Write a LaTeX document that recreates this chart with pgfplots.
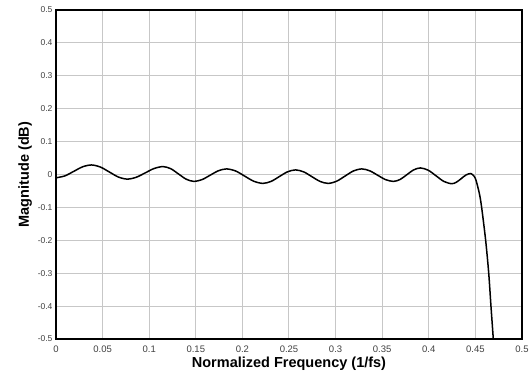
\documentclass[border=0pt]{standalone}
\usepackage{fontspec}
\setmainfont{Liberation Sans}
\usepackage{pgfplots}
\pgfplotsset{compat=1.18}
\begin{document}
\begin{tikzpicture}[x=1pt,y=1pt]
\begin{axis}[
  name=ax, anchor=south west, at={(0,0)},
  scale only axis, width=466pt, height=329pt,
  xmin=0, xmax=0.5, ymin=-0.5, ymax=0.5,
  xtick={0,0.05,...,0.5}, ytick={-0.5,-0.4,...,0.5},
  xticklabels={0,0.05,0.1,0.15,0.2,0.25,0.3,0.35,0.4,0.45,0.5},
  yticklabels={-0.5,-0.4,-0.3,-0.2,-0.1,0,0.1,0.2,0.3,0.4,0.5},
  major tick length=0pt,
  xticklabel style={font=\fontsize{9.5}{10}\selectfont, text=black!75, yshift=-3pt},
  yticklabel style={font=\fontsize{8.5}{9}\selectfont, text=black!75, xshift=0pt},
  grid=major, grid style={draw=black!22, line width=1pt},
  axis line style={line width=1.6pt},
  xlabel={\textbf{Normalized Frequency (1/fs)}},
  ylabel={\textbf{Magnitude (dB)}},
  label style={font=\fontsize{14.5}{15}\selectfont},
  xlabel style={yshift=2pt},
  ylabel style={yshift=-1pt},
  clip=true,
]
\addplot[black, line width=1.5pt, smooth] coordinates {
(0,-0.010) (0.0095,-0.0043) (0.019,0.0095) (0.0285,0.0233)
(0.038,0.029) (0.0476,0.0227) (0.0573,0.0075) (0.0669,-0.0077)
(0.0765,-0.014) (0.0861,-0.0084) (0.0958,0.005) (0.1054,0.0184)
(0.115,0.024) (0.1233,0.0174) (0.1315,0.0015) (0.1398,-0.0144)
(0.148,-0.021) (0.1568,-0.0154) (0.1655,-0.002) (0.1743,0.0114)
(0.183,0.017) (0.1928,0.0106) (0.2025,-0.005) (0.2123,-0.0206)
(0.222,-0.027) (0.2308,-0.021) (0.2395,-0.0065) (0.2483,0.008)
(0.257,0.014) (0.2658,0.008) (0.2745,-0.0065) (0.2833,-0.021)
(0.292,-0.027) (0.301,-0.0206) (0.310,-0.005) (0.319,0.0106)
(0.328,0.017) (0.3365,0.0114) (0.345,-0.002) (0.3535,-0.0154)
(0.362,-0.021) (0.3693,-0.015) (0.3765,-0.0005) (0.3838,0.014)
(0.391,0.020) (0.3994,0.013) (0.4078,-0.004) (0.4161,-0.021)
(0.4245,-0.028) (0.4296,-0.0235) (0.4348,-0.0125) (0.4399,-0.0015)
(0.445,0.003) (0.4485,-0.005) (0.4506,-0.017) (0.4542,-0.057)
(0.4567,-0.1) (0.461,-0.2) (0.4643,-0.3) (0.4667,-0.4) (0.4692,-0.5) (0.4705,-0.56)
};
\end{axis}
\pgfresetboundingbox
\path[use as bounding box] (-56,-39) rectangle (475,339);
\end{tikzpicture}
\end{document}
